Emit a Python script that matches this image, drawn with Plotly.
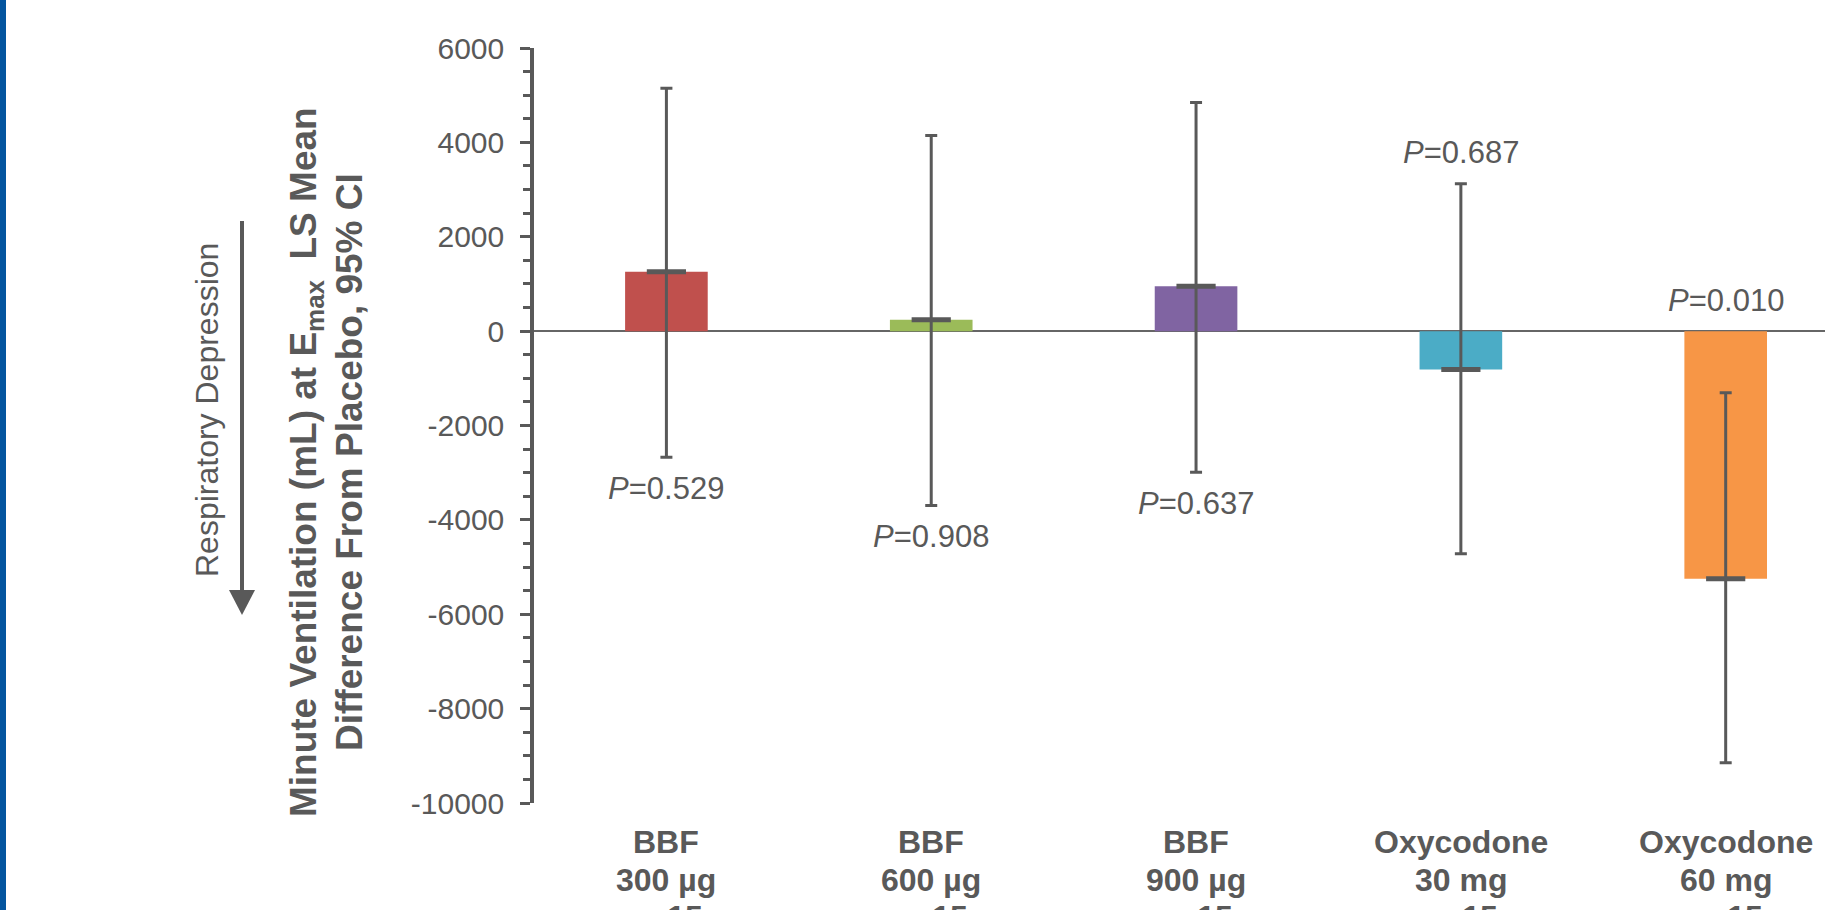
import plotly.graph_objects as go

# ---------------- data ----------------
categories = ["BBF 300", "BBF 600", "BBF 900", "Oxy 30", "Oxy 60"]
tick_labels = ["BBF<br>300 µg<br>n=15", "BBF<br>600 µg<br>n=15", "BBF<br>900 µg<br>n=15",
               "Oxycodone<br>30 mg<br>n=15", "Oxycodone<br>60 mg<br>n=15"]
ls_mean = [1260, 240, 950, -815, -5250]
ci_upper = [5148, 4147, 4846, 3125, -1305]
ci_lower = [-2672, -3696, -2990, -4719, -9147]
p_values = ["0.529", "0.908", "0.637", "0.687", "0.010"]
p_side = ["below", "below", "below", "above", "above_zero"]
bar_colors = ["#C0504D", "#9BBB59", "#8064A2", "#4BACC6", "#F79646"]
y_tickvals = [6000, 4000, 2000, 0, -2000, -4000, -6000, -8000, -10000]
y_ticktext = ["6000", "4000", "2000", "0", "-2000", "-4000", "-6000", "-8000", "-10000"]

# ---------------- layout constants ----------------
W, H = 1825, 910
L, T, B = 534, 48, 107
GREY = "#595959"
FONT = "Arial, Liberation Sans, Helvetica, sans-serif"
plot_w = W - L
plot_h = H - T - B


def px_to_paper(px, py):
    return (px - L) / plot_w, (H - B - py) / plot_h


fig = go.Figure()

fig.add_trace(go.Bar(
    x=categories, y=ls_mean, width=0.312,
    marker=dict(color=bar_colors, line=dict(width=0)),
    hoverinfo="skip", showlegend=False,
))

fig.add_trace(go.Scatter(
    x=categories, y=ls_mean, mode="markers",
    marker=dict(symbol="line-ew", size=28, color=GREY, line=dict(color=GREY, width=5)),
    error_y=dict(type="data", symmetric=False,
                 array=[u - m for u, m in zip(ci_upper, ls_mean)],
                 arrayminus=[m - l for m, l in zip(ls_mean, ci_lower)],
                 color=GREY, thickness=3, width=6),
    hoverinfo="skip", showlegend=False,
))

annotations = []
for cat, p, side, lo, up in zip(categories, p_values, p_side, ci_lower, ci_upper):
    if side == "below":
        yv, shift = lo, -31
    elif side == "above":
        yv, shift = up, 31
    else:
        yv, shift = 0, 31
    annotations.append(dict(
        x=cat, y=yv, xref="x", yref="y", yshift=shift, yanchor="middle", xanchor="center",
        text="<i>P</i>=" + p, showarrow=False,
        font=dict(family=FONT, size=31, color=GREY),
    ))

# category labels below the plot (one annotation per line, on the x category scale)
for cat, lab in zip(categories, tick_labels):
    for i, line in enumerate(lab.split("<br>")):
        annotations.append(dict(
            x=cat, y=0, xref="x", yref="paper", yanchor="middle", xanchor="center",
            yshift=-(39 + 37.5 * i), text=line, showarrow=False,
            font=dict(family=FONT, size=32, color=GREY, weight="bold"),
        ))

# y-axis title (two lines, rotated)
for text, px in [("Minute Ventilation (mL) at E<sub>max</sub>\u00a0\u00a0LS Mean", 306),
                 ("Difference From Placebo, 95% CI", 349)]:
    x0, y0 = px_to_paper(px, 462)
    annotations.append(dict(
        x=x0, y=y0, xref="paper", yref="paper", xanchor="center", yanchor="middle",
        text=text, textangle=-90, showarrow=False,
        font=dict(family=FONT, size=37, color=GREY, weight="bold"),
    ))

x0, y0 = px_to_paper(207, 410)
annotations.append(dict(
    x=x0, y=y0, xref="paper", yref="paper", xanchor="center", yanchor="middle",
    text="Respiratory Depression", textangle=-90, showarrow=False,
    font=dict(family=FONT, size=32, color=GREY),
))

shapes = []
# arrow shaft
ax0, ay0 = px_to_paper(242, 221)
ax1, ay1 = px_to_paper(242, 595)
shapes.append(dict(type="line", xref="paper", yref="paper", x0=ax0, y0=ay0, x1=ax1, y1=ay1,
                   line=dict(color=GREY, width=4)))
# arrow head
hx0, hy0 = px_to_paper(229, 590)
hx1, hy1 = px_to_paper(255, 590)
hx2, hy2 = px_to_paper(242, 615)
shapes.append(dict(type="path", xref="paper", yref="paper",
                   path=f"M{hx0},{hy0} L{hx1},{hy1} L{hx2},{hy2} Z",
                   fillcolor=GREY, line=dict(width=0)))
# blue strip on the left edge
bx0, by0 = px_to_paper(0, 0)
bx1, by1 = px_to_paper(6, H)
shapes.append(dict(type="rect", xref="paper", yref="paper", x0=bx0, y0=by0, x1=bx1, y1=by1,
                   fillcolor="#04559F", line=dict(width=0), layer="above"))

fig.update_layout(
    width=W, height=H,
    margin=dict(l=L, r=0, t=T, b=B, autoexpand=False),
    paper_bgcolor="white", plot_bgcolor="white",
    showlegend=False,
    bargap=0.69,
    annotations=annotations,
    shapes=shapes,
    xaxis=dict(
        type="category", range=[-0.5, 4.375],
        showticklabels=False,
        showline=False, showgrid=False, zeroline=False, ticks="",
        automargin=False,
    ),
    yaxis=dict(
        range=[-10000, 6000],
        tickvals=y_tickvals, ticktext=y_ticktext,
        tickfont=dict(family=FONT, size=30, color=GREY),
        showline=True, linecolor=GREY, linewidth=3.5,
        ticks="outside", ticklen=10, tickwidth=3, tickcolor=GREY,
        minor=dict(dtick=500, ticks="outside", ticklen=7, tickwidth=3, tickcolor=GREY, showgrid=False),
        showgrid=False,
        zeroline=True, zerolinecolor="#666666", zerolinewidth=2.2,
        ticklabelstandoff=10,
        automargin=False,
    ),
)

fig.write_html("out.html",
               config={"displayModeBar": False},
               post_script="document.body.style.margin='0';document.body.style.padding='0';"
                           "document.body.style.overflow='hidden';")
